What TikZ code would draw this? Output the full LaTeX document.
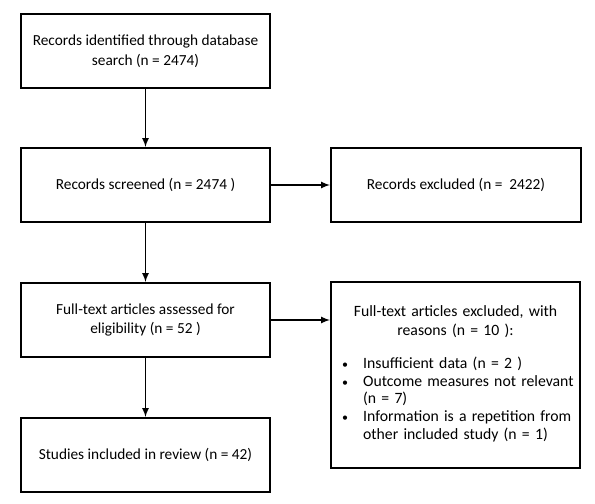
\documentclass[tikz,border=0pt]{standalone}
\usepackage{fontspec}
\setmainfont{Carlito}
\usepackage{tikz}
\usetikzlibrary{arrows}

\begin{document}
\begin{tikzpicture}[x=0.75pt,y=0.75pt,yscale=-1,xscale=1,
  box/.style={draw,line width=1.5pt,minimum width=186.75pt,minimum height=55.5pt,align=center,font=\fontsize{11.5pt}{14.8pt}\selectfont,inner sep=0pt},
  arr/.style={-latex,line width=1.3pt}]
%set diagram area 595 x 503
\path[use as bounding box] (0,0) rectangle (595,503);

%Shape: Rectangle [id:ident]
\draw (145.5,51) node (ident) [box] {Records identified through database\\search (n = 2474)};
%Shape: Rectangle [id:screen]
\draw (145.5,185) node (screen) [box] {Records screened (n = 2474 )};
%Shape: Rectangle [id:elig]
\draw (145.5,320) node (elig) [box] {Full-text articles assessed for\\eligibility (n = 52 )};
%Shape: Rectangle [id:incl]
\draw (145.5,455) node (incl) [box] {Studies included in review (n = 42)};
%Shape: Rectangle [id:excl]
\draw (456,185) node (excl) [box,minimum width=187.5pt] {Records excluded (n = \ 2422)};
%Shape: Rectangle [id:exclft]
\draw (455.5,375) node (exclft) [box,minimum height=139.5pt,align=left,text width=170pt,inner xsep=8.25pt,font=\fontsize{11.8pt}{14.2pt}\selectfont] {%
  {\centering Full-text articles excluded, with\\reasons (n = 10 ):\par}\vspace{13pt}%
  {\renewcommand\arraystretch{0.93}%
  \begin{tabular}{@{}p{15.75pt}@{}l@{}}
  {\small\textbullet} & Insufficient data (n = 2 )\\
  {\small\textbullet} & Outcome measures not relevant\\
              & (n = 7)\\
  {\small\textbullet} & Information is a repetition from\\
              & other included study (n = 1)
  \end{tabular}}\par\vspace{29pt}};

%Straight Lines [id:down]
\draw [arr] (ident) -- (screen);
\draw [arr] (screen) -- (elig);
\draw [arr] (elig) -- (incl);
%Straight Lines [id:right]
\draw [arr] (screen) -- (excl);
\draw [arr] (elig.east) -- (elig.east -| exclft.west);

\end{tikzpicture}
\end{document}
